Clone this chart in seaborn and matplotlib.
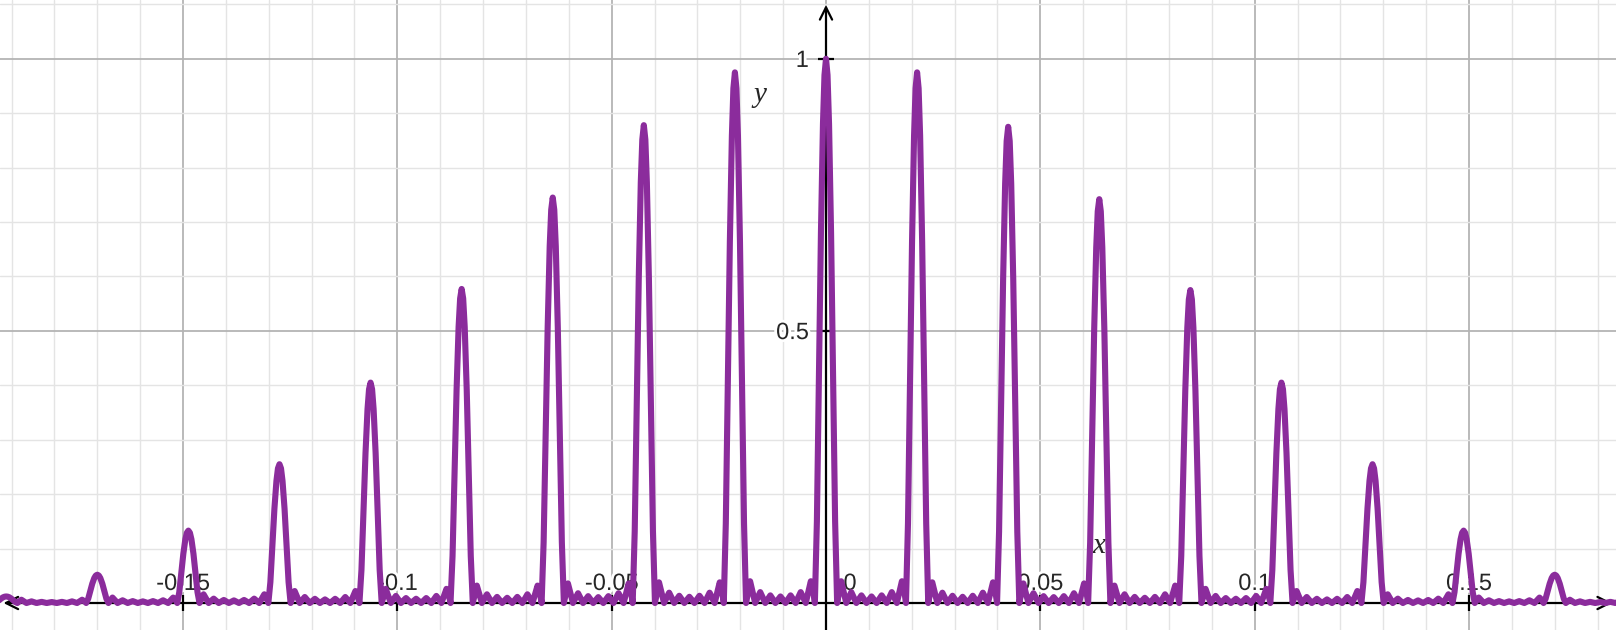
import numpy as np
import matplotlib
matplotlib.use("Agg")
import matplotlib.pyplot as plt
import matplotlib.patheffects as pe
import seaborn as sns

# principal peaks (order, height)
orders = list(range(-9, 10))
peak_heights = [0.012, 0.052, 0.133, 0.255, 0.405, 0.577, 0.745, 0.878, 0.975, 1.0,
                0.975, 0.875, 0.742, 0.575, 0.405, 0.255, 0.133, 0.052, 0.012]
peak_spacing = 0.02125
n_slits = 9

# shape of one principal peak, offsets in units of the first-zero distance
lobe_offsets = [-1.1, -0.9, -0.7, -0.5, -0.3, -0.15, 0.0, 0.15, 0.3, 0.5, 0.7, 0.9, 1.1]
lobe_shape = [0.0, 0.15, 0.42, 0.68, 0.88, 0.97, 1.0, 0.97, 0.88, 0.68, 0.42, 0.15, 0.0]

# small secondary maxima between two peaks (near the centre)
ripple_heights = [0.04, 0.02, 0.014, 0.012, 0.014, 0.02, 0.04]
ripple_shape = [(0.25, 0.5), (0.5, 1.0), (0.75, 0.5), (1.0, 0.0)]
# ripple strength for each gap, left to right
gap_scale = [0.15, 0.25, 0.4, 0.55, 0.65, 0.8, 0.9, 0.95, 1.0,
             1.0, 0.95, 0.9, 0.8, 0.65, 0.55, 0.4, 0.25, 0.15]

x_ticks = [-0.15, -0.1, -0.05, 0.05, 0.1, 0.15]
x_tick_labels = ["-0.15", "-0.1", "-0.05", "0.05", "0.1", "0.15"]
y_ticks = [0.5, 1.0]
y_tick_labels = ["0.5", "1"]

# assemble the curve from the peaks and ripples above
z = peak_spacing / n_slits
xs, ys = [], []
for i, (n, h) in enumerate(zip(orders, peak_heights)):
    c = n * peak_spacing
    for off, s in zip(lobe_offsets, lobe_shape):
        xs.append(c + off * z)
        ys.append(h * s)
    if i < len(gap_scale):
        for k, r in enumerate(ripple_heights):
            base = c + (k + 1) * z
            shape = ripple_shape if k < len(ripple_heights) - 1 else ripple_shape[:-1]
            for f, w in shape:
                if k == 0 and f < 0.3:
                    continue  # lobe already reaches past this point
                xs.append(base + f * z)
                ys.append(gap_scale[i] * r * w)

sns.set_theme(style="white")
plt.rcParams["font.family"] = ["Liberation Sans", "DejaVu Sans"]

XMIN, XMAX = -0.1927, 0.1843
YMIN, YMAX = -0.0496, 1.108

fig = plt.figure(figsize=(16.16, 6.3), dpi=100)
ax = fig.add_axes([0, 0, 1, 1])
ax.set_xlim(XMIN, XMAX)
ax.set_ylim(YMIN, YMAX)
ax.set_axis_off()

# desmos-like grid
for gx in np.arange(-0.19, 0.19, 0.01):
    major = abs(round(gx / 0.05) * 0.05 - gx) < 1e-9
    ax.axvline(gx, color="#b4b4b4" if major else "#e4e4e4", lw=1.3 if major else 1.0, zorder=0)
for gy in np.arange(0.1, 1.11, 0.1):
    major = abs(round(gy / 0.5) * 0.5 - gy) < 1e-9
    ax.axhline(gy, color="#b4b4b4" if major else "#e4e4e4", lw=1.3 if major else 1.0, zorder=0)

# axes with arrows
ax.annotate("", xy=(0.1834, 0), xytext=(XMIN + 0.0008, 0), zorder=1,
            arrowprops=dict(arrowstyle="<->", lw=1.6, color="black", mutation_scale=22, shrinkA=0, shrinkB=0))
ax.annotate("", xy=(0, 1.099), xytext=(0, YMIN - 0.01), zorder=1,
            arrowprops=dict(arrowstyle="->", lw=1.6, color="black", mutation_scale=22, shrinkA=0, shrinkB=0))
ax.plot(x_ticks, [0] * len(x_ticks), ls="none", marker="|", ms=11, mew=1.6, color="black", zorder=1)
ax.plot([0] * len(y_ticks), y_ticks, ls="none", marker="_", ms=11, mew=1.6, color="black", zorder=1)

halo = [pe.withStroke(linewidth=4, foreground="white")]
for t, lab in zip(x_ticks, x_tick_labels):
    ax.text(t, 0.035, lab, ha="center", va="center", fontsize=17, zorder=3, path_effects=halo)
ax.text(0.0056, 0.035, "0", ha="center", va="center", fontsize=17, zorder=3, path_effects=halo)
for t, lab in zip(y_ticks, y_tick_labels):
    ax.text(-0.004, t - 0.004, lab, ha="right", va="center", fontsize=17, zorder=3, path_effects=halo)

ax.text(-0.0154, 0.934, "y", fontsize=21, style="italic", family=["Liberation Serif", "DejaVu Serif"],
        ha="center", va="center", zorder=3)
ax.text(0.0637, 0.105, "x", fontsize=21, style="italic", family=["Liberation Serif", "DejaVu Serif"],
        ha="center", va="center", zorder=3)

sns.lineplot(x=xs, y=ys, ax=ax, color="#8b2c9c", linewidth=4.4, sort=False,
             estimator=None, zorder=5, solid_joinstyle="round", solid_capstyle="round")

fig.savefig("out.png", dpi=100)
